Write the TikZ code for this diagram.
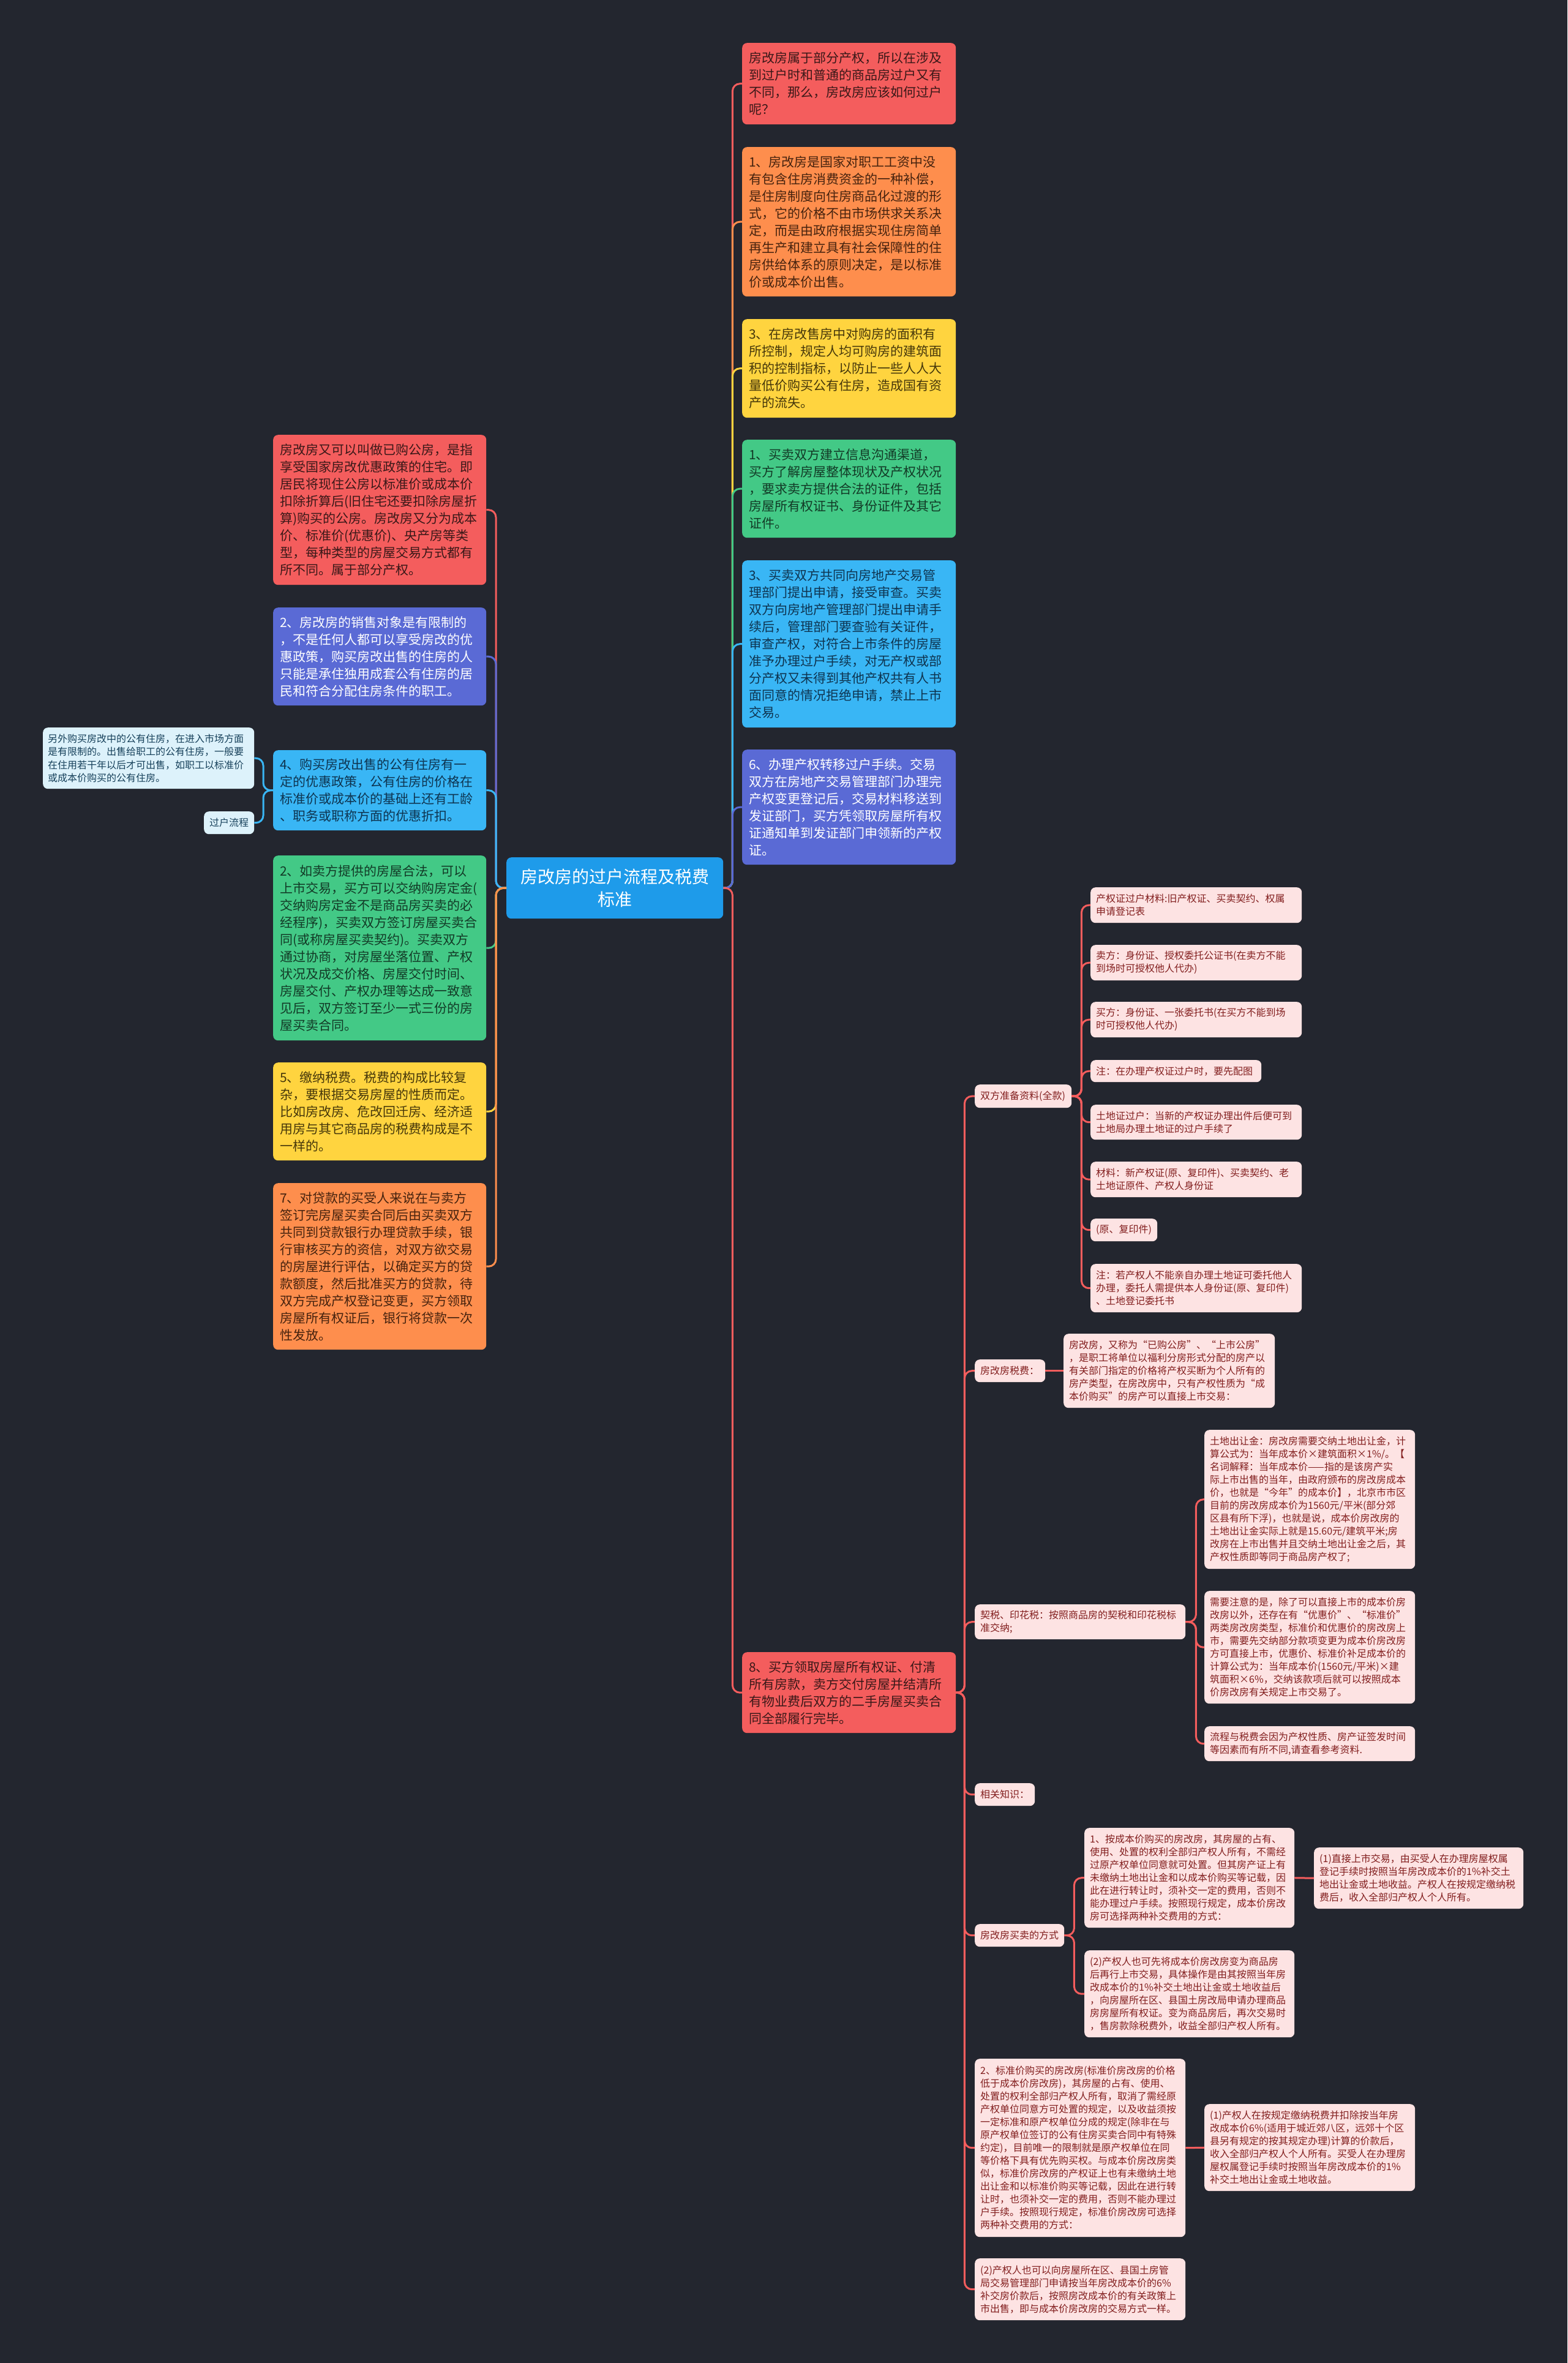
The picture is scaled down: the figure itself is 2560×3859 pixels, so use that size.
\documentclass[tikz,border=0pt]{standalone}
\usepackage{fontspec}
\setmainfont{Noto Sans CJK SC}
\definecolor{bg}{HTML}{23262F}
\definecolor{cred}{HTML}{F45D5D}
\definecolor{corange}{HTML}{FE8E4D}
\definecolor{cyellow}{HTML}{FFD43F}
\definecolor{cgreen}{HTML}{43C986}
\definecolor{cblue}{HTML}{39B6F5}
\definecolor{cindigo}{HTML}{5A6AD5}
\definecolor{ccen}{HTML}{1E9BEA}
\definecolor{tred}{HTML}{3A1818}
\definecolor{torange}{HTML}{45220E}
\definecolor{tyellow}{HTML}{45370A}
\definecolor{tgreen}{HTML}{123A26}
\definecolor{tblue}{HTML}{0E3450}
\definecolor{pinkbg}{HTML}{FDE3E3}
\definecolor{pinktx}{HTML}{821E1E}
\definecolor{cyanbg}{HTML}{DDF2FB}
\definecolor{cyantx}{HTML}{16405A}
\tikzset{
  box/.style={rounded corners=8pt, anchor=north west, align=left, inner ysep=0pt},
  big/.style={box, inner xsep=11pt, text width=327pt, font=\fontsize{21}{28}\selectfont},
  lft/.style={box, inner xsep=11pt, text width=326pt, font=\fontsize{21}{28}\selectfont},
  small/.style={box, inner xsep=9pt, fill=pinkbg, text=pinktx, font=\fontsize{16}{21}\selectfont},
  conn/.style={line width=3pt, rounded corners=12pt},
}
\begin{document}
\begin{tikzpicture}[x=1pt,y=-1pt]
\useasboundingbox (0,0) rectangle (2560,3859);
\fill[bg] (0,0) rectangle (2560,3859);

% center
\node[box, align=center, fill=ccen, text=white, text width=334pt, inner xsep=10pt, minimum height=100pt, font=\fontsize{28}{37}\selectfont] (c) at (827,1400) {房改房的过户流程及税费\\标准};

% right column
\node[big, fill=cred, text=tred, minimum height=133pt] (r1) at (1212,70) {房改房属于部分产权，所以在涉及\\到过户时和普通的商品房过户又有\\不同，那么，房改房应该如何过户\\呢？};
\node[big, fill=corange, text=torange, minimum height=244pt] (r2) at (1212,240) {1、房改房是国家对职工工资中没\\有包含住房消费资金的一种补偿，\\是住房制度向住房商品化过渡的形\\式，它的价格不由市场供求关系决\\定，而是由政府根据实现住房简单\\再生产和建立具有社会保障性的住\\房供给体系的原则决定，是以标准\\价或成本价出售。};
\node[big, fill=cyellow, text=tyellow, minimum height=161pt] (r3) at (1212,521) {3、在房改售房中对购房的面积有\\所控制，规定人均可购房的建筑面\\积的控制指标，以防止一些人人大\\量低价购买公有住房，造成国有资\\产的流失。};
\node[big, fill=cgreen, text=tgreen, minimum height=160pt] (r4) at (1212,718) {1、买卖双方建立信息沟通渠道，\\买方了解房屋整体现状及产权状况\\，要求卖方提供合法的证件，包括\\房屋所有权证书、身份证件及其它\\证件。};
\node[big, fill=cblue, text=tblue, minimum height=273pt] (r5) at (1212,915) {3、买卖双方共同向房地产交易管\\理部门提出申请，接受审查。买卖\\双方向房地产管理部门提出申请手\\续后，管理部门要查验有关证件，\\审查产权，对符合上市条件的房屋\\准予办理过户手续，对无产权或部\\分产权又未得到其他产权共有人书\\面同意的情况拒绝申请，禁止上市\\交易。};
\node[big, fill=cindigo, text=white, minimum height=188pt] (r6) at (1212,1224) {6、办理产权转移过户手续。交易\\双方在房地产交易管理部门办理完\\产权变更登记后，交易材料移送到\\发证部门，买方凭领取房屋所有权\\证通知单到发证部门申领新的产权\\证。};
\node[big, fill=cred, text=tred, minimum height=132pt] (r7) at (1212,2698) {8、买方领取房屋所有权证、付清\\所有房款，卖方交付房屋并结清所\\有物业费后双方的二手房屋买卖合\\同全部履行完毕。};

% left column
\node[lft, fill=cred, text=tred, minimum height=245pt] (l1) at (446,710) {房改房又可以叫做已购公房，是指\\享受国家房改优惠政策的住宅。即\\居民将现住公房以标准价或成本价\\扣除折算后(旧住宅还要扣除房屋折\\算)购买的公房。房改房又分为成本\\价、标准价(优惠价)、央产房等类\\型，每种类型的房屋交易方式都有\\所不同。属于部分产权。};
\node[lft, fill=cindigo, text=white, minimum height=160pt] (l2) at (446,992) {2、房改房的销售对象是有限制的\\，不是任何人都可以享受房改的优\\惠政策，购买房改出售的住房的人\\只能是承住独用成套公有住房的居\\民和符合分配住房条件的职工。};
\node[lft, fill=cblue, text=tblue, minimum height=131pt] (l3) at (446,1225) {4、购买房改出售的公有住房有一\\定的优惠政策，公有住房的价格在\\标准价或成本价的基础上还有工龄\\、职务或职称方面的优惠折扣。};
\node[lft, fill=cgreen, text=tgreen, minimum height=302pt] (l4) at (446,1397) {2、如卖方提供的房屋合法，可以\\上市交易，买方可以交纳购房定金(\\交纳购房定金不是商品房买卖的必\\经程序)，买卖双方签订房屋买卖合\\同(或称房屋买卖契约)。买卖双方\\通过协商，对房屋坐落位置、产权\\状况及成交价格、房屋交付时间、\\房屋交付、产权办理等达成一致意\\见后，双方签订至少一式三份的房\\屋买卖合同。};
\node[lft, fill=cyellow, text=tyellow, minimum height=160pt] (l5) at (446,1735) {5、缴纳税费。税费的构成比较复\\杂，要根据交易房屋的性质而定。\\比如房改房、危改回迁房、经济适\\用房与其它商品房的税费构成是不\\一样的。};
\node[lft, fill=corange, text=torange, minimum height=272pt] (l6) at (446,1932) {7、对贷款的买受人来说在与卖方\\签订完房屋买卖合同后由买卖双方\\共同到贷款银行办理贷款手续，银\\行审核买方的资信，对双方欲交易\\的房屋进行评估，以确定买方的贷\\款额度，然后批准买方的贷款，待\\双方完成产权登记变更，买方领取\\房屋所有权证后，银行将贷款一次\\性发放。};

% far left
\node[box, inner xsep=8pt, text width=329pt, fill=cyanbg, text=cyantx, minimum height=100pt, font=\fontsize{16}{21.5}\selectfont] (lt) at (70,1188) {另外购买房改中的公有住房，在进入市场方面\\是有限制的。出售给职工的公有住房，一般要\\在住用若干年以后才可出售，如职工以标准价\\或成本价购买的公有住房。};
\node[box, inner xsep=9pt, text width=64pt, fill=cyanbg, text=cyantx, minimum height=37pt, font=\fontsize{16}{21}\selectfont] (lg) at (333,1325) {过户流程};

% node 8 subtree
\node[small, text width=140pt, minimum height=38pt] (sf) at (1592,1771) {双方准备资料(全款)};
\node[small, text width=327pt, minimum height=58pt] (c1) at (1781,1449) {产权证过户材料:旧产权证、买卖契约、权属\\申请登记表};
\node[small, text width=327pt, minimum height=58pt] (c2) at (1781,1543) {卖方：身份证、授权委托公证书(在卖方不能\\到场时可授权他人代办)};
\node[small, text width=327pt, minimum height=58pt] (c3) at (1781,1636) {买方：身份证、一张委托书(在买方不能到场\\时可授权他人代办)};
\node[small, text width=261pt, minimum height=36pt] (c4) at (1781,1731) {注：在办理产权证过户时，要先配图};
\node[small, text width=327pt, minimum height=57pt] (c5) at (1781,1804) {土地证过户：当新的产权证办理出件后便可到\\土地局办理土地证的过户手续了};
\node[small, text width=327pt, minimum height=58pt] (c6) at (1781,1897) {材料：新产权证(原、复印件)、买卖契约、老\\土地证原件、产权人身份证};
\node[small, text width=91pt, minimum height=37pt] (c7) at (1781,1990) {(原、复印件)};
\node[small, text width=327pt, minimum height=79pt] (c8) at (1781,2064) {注：若产权人不能亲自办理土地证可委托他人\\办理，委托人需提供本人身份证(原、复印件)\\、土地登记委托书};

\node[small, text width=97pt, minimum height=37pt] (shf) at (1592,2220) {房改房税费：};
\node[small, text width=327pt, minimum height=121pt] (shf1) at (1737,2178) {房改房，又称为“已购公房”、“上市公房”\\，是职工将单位以福利分房形式分配的房产以\\有关部门指定的价格将产权买断为个人所有的\\房产类型，在房改房中，只有产权性质为“成\\本价购买”的房产可以直接上市交易：};

\node[small, text width=326pt, minimum height=57pt] (qs) at (1592,2620) {契税、印花税：按照商品房的契税和印花税标\\准交纳;};
\node[small, text width=326pt, minimum height=227pt] (qsa) at (1967,2335) {土地出让金：房改房需要交纳土地出让金，计\\算公式为：当年成本价×建筑面积×1\%/。【\\名词解释：当年成本价——指的是该房产实\\际上市出售的当年，由政府颁布的房改房成本\\价，也就是“今年”的成本价】，北京市市区\\目前的房改房成本价为1560元/平米(部分郊\\区县有所下浮)，也就是说，成本价房改房的\\土地出让金实际上就是15.60元/建筑平米;房\\改房在上市出售并且交纳土地出让金之后，其\\产权性质即等同于商品房产权了;};
\node[small, text width=326pt, minimum height=184pt] (qsb) at (1967,2598) {需要注意的是，除了可以直接上市的成本价房\\改房以外，还存在有“优惠价”、“标准价”\\两类房改房类型，标准价和优惠价的房改房上\\市，需要先交纳部分款项变更为成本价房改房\\方可直接上市，优惠价、标准价补足成本价的\\计算公式为：当年成本价(1560元/平米)×建\\筑面积×6\%，交纳该款项后就可以按照成本\\价房改房有关规定上市交易了。};
\node[small, text width=326pt, minimum height=57pt] (qsc) at (1967,2819) {流程与税费会因为产权性质、房产证签发时间\\等因素而有所不同,请查看参考资料.};

\node[small, text width=80pt, minimum height=37pt] (xg) at (1592,2912) {相关知识：};
\node[small, text width=128pt, minimum height=37pt] (mm) at (1592,3142) {房改房买卖的方式};
\node[small, text width=325pt, minimum height=163pt] (mm1) at (1771,2985) {1、按成本价购买的房改房，其房屋的占有、\\使用、处置的权利全部归产权人所有，不需经\\过原产权单位同意就可处置。但其房产证上有\\未缴纳土地出让金和以成本价购买等记载，因\\此在进行转让时，须补交一定的费用，否则不\\能办理过户手续。按照现行规定，成本价房改\\房可选择两种补交费用的方式：};
\node[small, text width=324pt, minimum height=100pt] (mm1a) at (2146,3017) {(1)直接上市交易，由买受人在办理房屋权属\\登记手续时按照当年房改成本价的1\%补交土\\地出让金或土地收益。产权人在按规定缴纳税\\费后，收入全部归产权人个人所有。};
\node[small, text width=325pt, minimum height=142pt] (mm2) at (1771,3185) {(2)产权人也可先将成本价房改房变为商品房\\后再行上市交易，具体操作是由其按照当年房\\改成本价的1\%补交土地出让金或土地收益后\\，向房屋所在区、县国土房改局申请办理商品\\房房屋所有权证。变为商品房后，再次交易时\\，售房款除税费外，收益全部归产权人所有。};

\node[small, text width=326pt, minimum height=291pt] (bz) at (1592,3362) {2、标准价购买的房改房(标准价房改房的价格\\低于成本价房改房)，其房屋的占有、使用、\\处置的权利全部归产权人所有，取消了需经原\\产权单位同意方可处置的规定，以及收益须按\\一定标准和原产权单位分成的规定(除非在与\\原产权单位签订的公有住房买卖合同中有特殊\\约定)，目前唯一的限制就是原产权单位在同\\等价格下具有优先购买权。与成本价房改房类\\似，标准价房改房的产权证上也有未缴纳土地\\出让金和以标准价购买等记载，因此在进行转\\让时，也须补交一定的费用，否则不能办理过\\户手续。按照现行规定，标准价房改房可选择\\两种补交费用的方式：};
\node[small, text width=326pt, minimum height=142pt] (bz1) at (1967,3436) {(1)产权人在按规定缴纳税费并扣除按当年房\\改成本价6\%(适用于城近郊八区，远郊十个区\\县另有规定的按其规定办理)计算的价款后，\\收入全部归产权人个人所有。买受人在办理房\\屋权属登记手续时按照当年房改成本价的1\%\\补交土地出让金或土地收益。};
\node[small, text width=326pt, minimum height=101pt] (bz2) at (1592,3688) {(2)产权人也可以向房屋所在区、县国土房管\\局交易管理部门申请按当年房改成本价的6\%\\补交房价款后，按照房改成本价的有关政策上\\市出售，即与成本价房改房的交易方式一样。};

% connectors from center
\foreach \n/\col in {r1/cred, r2/corange, r3/cyellow, r4/cgreen, r5/cblue, r6/cindigo, r7/cred}
  \draw[conn, draw=\col] (c.east) -- ++(15,0) |- (\n.west);
\foreach \n/\col in {l1/cred, l2/cindigo, l3/cblue, l4/cgreen, l5/cyellow, l6/corange}
  \draw[conn, draw=\col] (c.west) -- ++(-17,0) |- (\n.east);
% node 4 children
\foreach \n in {lt, lg}
  \draw[conn, draw=cblue] (l3.west) -- ++(-16,0) |- (\n.east);
% node 8 children
\foreach \n in {sf, shf, qs, xg, mm, bz, bz2}
  \draw[conn, draw=cred] (r7.east) -- ++(14,0) |- (\n.west);
\foreach \n in {c1, c2, c3, c4, c5, c6, c7, c8}
  \draw[conn, draw=cred] (sf.east) -- ++(16,0) |- (\n.west);
\draw[conn, draw=cred] (shf.east) -- (shf1.west);
\foreach \n in {qsa, qsb, qsc}
  \draw[conn, draw=cred] (qs.east) -- ++(17,0) |- (\n.west);
\foreach \n in {mm1, mm2}
  \draw[conn, draw=cred] (mm.east) -- ++(16,0) |- (\n.west);
\draw[conn, draw=cred] (mm1.east) -- (mm1a.west);
\draw[conn, draw=cred] (bz.east) -- (bz1.west);
\end{tikzpicture}
\end{document}
